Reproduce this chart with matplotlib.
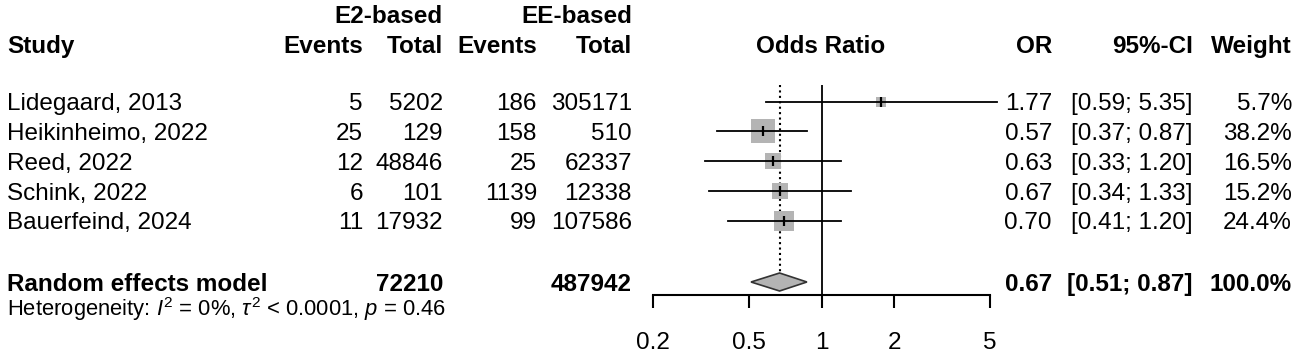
import matplotlib
matplotlib.use('Agg')
import matplotlib.pyplot as plt
import numpy as np

plt.rcParams['font.family'] = 'Liberation Sans'
plt.rcParams['mathtext.fontset'] = 'custom'
plt.rcParams['mathtext.rm'] = 'Liberation Sans'
plt.rcParams['mathtext.it'] = 'Liberation Sans:italic'

studies = ["Lidegaard, 2013", "Heikinheimo, 2022", "Reed, 2022", "Schink, 2022", "Bauerfeind, 2024"]
e2_events = [5, 25, 12, 6, 11]
e2_total = [5202, 129, 48846, 101, 17932]
ee_events = [186, 158, 25, 1139, 99]
ee_total = [305171, 510, 62337, 12338, 107586]
or_est = [1.77, 0.57, 0.63, 0.67, 0.70]
ci_low = [0.59, 0.37, 0.33, 0.34, 0.41]
ci_high = [5.35, 0.87, 1.20, 1.33, 1.20]
weights = [5.7, 38.2, 16.5, 15.2, 24.4]
pooled_or, pooled_low, pooled_high = 0.67, 0.51, 0.87
het_text = r'Heterogeneity: $\mathit{I}^2$ = 0%, $\tau^2$ < 0.0001, $\mathit{p}$ = 0.46'
xticks = [0.2, 0.5, 1, 2, 5]

W, H = 1299, 355
fig = plt.figure(figsize=(W / 100, H / 100), dpi=100)

# text layer in pixel coordinates
tx = fig.add_axes([0, 0, 1, 1])
tx.set_xlim(0, W)
tx.set_ylim(H, 0)
tx.axis('off')

fs = 17.5
row_y = [101.7 + 29.75 * i for i in range(len(studies))]
pool_y = 282
base = 8.7  # baseline offset from row centre

# column right edges
c_e2ev, c_e2tot, c_eeev, c_eetot = 363, 443, 537, 632
c_or, c_ci, c_w = 1052, 1193, 1292

# headers
tx.text(c_e2tot, 23, 'E2-based', ha='right', fontsize=fs, fontweight='bold')
tx.text(c_eetot, 23, 'EE-based', ha='right', fontsize=fs, fontweight='bold')
tx.text(7, 53, 'Study', ha='left', fontsize=fs, fontweight='bold')
for x, s in [(c_e2ev, 'Events'), (c_e2tot, 'Total'), (c_eeev, 'Events'), (c_eetot, 'Total'),
             (c_or, 'OR'), (c_ci, '95%-CI'), (c_w, 'Weight')]:
    tx.text(x, 53, s, ha='right', fontsize=fs, fontweight='bold')
tx.text(821, 53, 'Odds Ratio', ha='center', fontsize=fs, fontweight='bold')

# study rows
for i, y in enumerate(row_y):
    b = y + base
    tx.text(7, b, studies[i], ha='left', fontsize=fs)
    tx.text(c_e2ev, b, str(e2_events[i]), ha='right', fontsize=fs)
    tx.text(c_e2tot, b, str(e2_total[i]), ha='right', fontsize=fs)
    tx.text(c_eeev, b, str(ee_events[i]), ha='right', fontsize=fs)
    tx.text(c_eetot, b, str(ee_total[i]), ha='right', fontsize=fs)
    tx.text(c_or, b, f'{or_est[i]:.2f}', ha='right', fontsize=fs)
    tx.text(c_ci, b, f'[{ci_low[i]:.2f}; {ci_high[i]:.2f}]', ha='right', fontsize=fs)
    tx.text(c_w, b, f'{weights[i]:.1f}%', ha='right', fontsize=fs)

# pooled row
pb = pool_y + base
tx.text(7, pb, 'Random effects model', ha='left', fontsize=fs, fontweight='bold')
tx.text(c_e2tot, pb, str(sum(e2_total)), ha='right', fontsize=fs, fontweight='bold')
tx.text(c_eetot, pb, str(sum(ee_total)), ha='right', fontsize=fs, fontweight='bold')
tx.text(c_or, pb, f'{pooled_or:.2f}', ha='right', fontsize=fs, fontweight='bold')
tx.text(c_ci, pb, f'[{pooled_low:.2f}; {pooled_high:.2f}]', ha='right', fontsize=fs, fontweight='bold')
tx.text(c_w, pb, '100.0%', ha='right', fontsize=fs, fontweight='bold')
tx.text(7, 316, het_text, ha='left', fontsize=15.8)

# forest panel, 0.2..5 mapped onto x pixels 653..990, y pixels 85..295
ax = fig.add_axes([653 / W, (H - 295) / H, 337 / W, 210 / H])
ax.patch.set_alpha(0)
ax.set_xscale('log')
ax.set_xlim(0.2, 5)
ax.set_ylim(295, 85)
for s in ['top', 'left', 'right']:
    ax.spines[s].set_visible(False)
ax.spines['bottom'].set_linewidth(1.5)
ax.set_yticks([])
ax.set_xticks(xticks)
ax.set_xticklabels([f'{t:g}' for t in xticks])
ax.xaxis.set_minor_locator(matplotlib.ticker.NullLocator())
ax.tick_params(axis='x', direction='out', length=9.4, width=1.5, pad=17, labelsize=fs)

ax.axvline(1, color='black', lw=1.3, zorder=1)
ax.vlines(pooled_or, 85, pool_y, colors='black', linestyles=(0, (1, 1.6)), lw=1.5, zorder=1)

for i, y in enumerate(row_y):
    side = 2.91 * np.sqrt(weights[i])
    ax.plot([or_est[i]], [y], marker='s', markersize=side, color='#b4b4b4',
            markeredgewidth=0, zorder=2)
    ax.plot([ci_low[i], ci_high[i]], [y, y], color='black', lw=1.3, zorder=3, clip_on=False)
    ax.plot([or_est[i]], [y], marker='|', markersize=7, mew=1.6, color='black', zorder=4)

dx = [pooled_low, pooled_or, pooled_high, pooled_or, pooled_low]
dy = [pool_y, pool_y - 9, pool_y, pool_y + 9, pool_y]
ax.fill(dx, dy, facecolor='#b4b4b4', edgecolor='#333333', lw=1.2, zorder=5)

plt.savefig('out.png', dpi=100)
